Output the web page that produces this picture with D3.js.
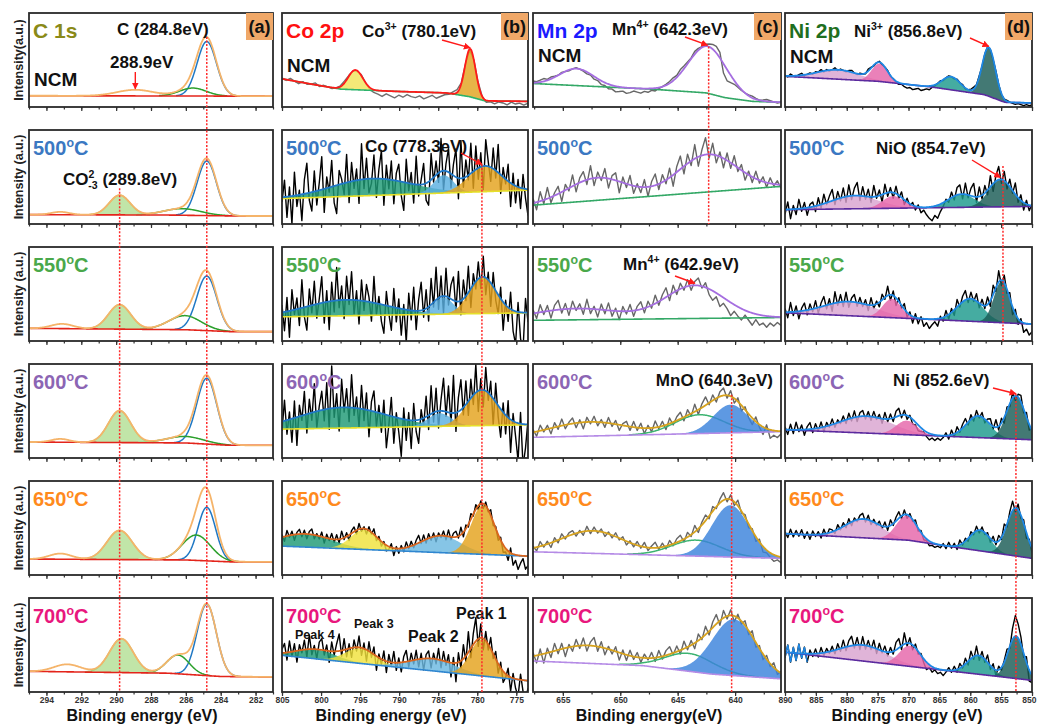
<!DOCTYPE html>
<html>
<head>
<meta charset="utf-8">
<script src="https://cdn.jsdelivr.net/npm/d3@7"></script>
<style>
  body { margin: 0; background: #fff; }
  svg { display: block; font-family: Arial, "Liberation Sans", sans-serif; font-weight: bold; }
</style>
</head>
<body>
<svg id="chart" width="1038" height="725"></svg>
<script>
// ---------- data ----------
const rowNames = ["NCM", "500", "550", "600", "650", "700"];
const elementNames = ["C 1s", "Co 2p", "Mn 2p", "Ni 2p"];
const panelTags = ["(a)", "(b)", "(c)", "(d)"];

// x ranges (binding energy, eV) and tick labels
const aDomain = [295, 281], bDomain = [805, 773.5], cDomain = [657.6, 636], dDomain = [890, 850];
const aTicks = [294, 292, 290, 288, 286, 284, 282];
const bTicks = [805, 800, 795, 790, 785, 780, 775];
const cTicks = [655, 650, 645, 640];
const dTicks = [890, 885, 880, 875, 870, 865, 860, 855, 850];

// backgrounds: [eV, intensity] (intensity as fraction of the panel height)
// peaks: [centre eV, height, fwhm eV]
// raw residuals: deviation of the measured line from the fit, in 1/100 of panel height
const c1sBgNCM = [[295, 0.12], [281, 0.115]];
const c1sPeaksNCM = [[284.8, 0.58, 1.3], [285.6, 0.085, 1.8], [288.9, 0.065, 2.5]];
const c1sBg500 = [[295, 0.10], [287, 0.095], [283, 0.085], [281, 0.085]];
const c1sPeaks500 = [[284.8, 0.58, 1.3], [286.2, 0.07, 2.5], [289.8, 0.21, 1.4], [293.2, 0.03, 1.2]];
const c1sBg550 = [[295, 0.135], [286, 0.12], [283.5, 0.10], [281, 0.10]];
const c1sPeaks550 = [[284.8, 0.58, 1.35], [286.05, 0.15, 2.2], [289.8, 0.26, 1.5], [293.1, 0.05, 1.5]];
const c1sBg600 = [[295, 0.17], [286, 0.16], [283.5, 0.135], [281, 0.135]];
const c1sPeaks600 = [[284.8, 0.70, 1.35], [286.05, 0.07, 2.5], [289.8, 0.34, 1.5], [293.2, 0.035, 1.2]];
const c1sBg650 = [[295, 0.17], [286, 0.16], [283.5, 0.14], [281, 0.14]];
const c1sPeaks650 = [[284.8, 0.57, 1.2], [285.4, 0.27, 1.9], [289.8, 0.31, 1.7], [293.2, 0.06, 1.5]];
const c1sBg700 = [[295, 0.22], [287, 0.20], [284, 0.165], [281, 0.16]];
const c1sPeaks700 = [[284.8, 0.76, 1.3], [286.45, 0.20, 1.5], [289.7, 0.36, 1.6], [292.8, 0.08, 1.8]];

const coBgNCM = [[805, 0.30], [801, 0.24], [797.5, 0.19], [790, 0.165], [784, 0.15], [781, 0.11], [779, 0.065], [773.5, 0.06]];
const coPeaksNCM = [[795.6, 0.21, 2.2], [780.9, 0.51, 1.6]];
const coResNCM = [1,-1,2,0,-2,1,-1,0,2,-1,1,0,-1, 0,1,2,1,0,-1,1,0,-2,-3,
  -4,-6,-3,-5,-7,-4,-6,-3,-5,-6,-4,-7,-5,-3,-6,-4,-2,-1, 2,3,1,0,-1,0,1, 0,-2,-1,-3,-1,-2,-4,-1,-3,-2,-4,-2];
const coBg500 = [[805, 0.27], [773.5, 0.36]];
const coPeaks500 = [[793.5, 0.18, 12], [784.3, 0.19, 3], [779.0, 0.27, 5]];
const coRes500 = [-5,18,-22,10,-30,25,-12,5,-28,15,32,-8,-20,22,-15,8,35,-25,12,-5,28,-18,-30,15,5,-12,30,-22,20,-8,
  12,-25,38,-10,22,-15,-5,25,-20,10,30,-28,15,-10,20,-25,8,18,-15,-30,
  25,-8,12,-20,30,-12,5,22,-18,-25,28,-5,15,-10,35,-20,8,25,-15,12,
  30,-22,40,-10,18,-5,32,-18,25,-12,15,-25,28,5,-15,22,-8,30,-20,10,
  -5,18,-25,12,-18,8,-22,15,-10,-28];
const coBg550 = [[805, 0.257], [773.5, 0.30]];
const coPeaks550 = [[796.8, 0.17, 12], [784.35, 0.18, 3], [779.3, 0.39, 4]];
const coRes550 = [8,-20,15,-28,22,-5,12,-18,30,-10,-25,18,-8,25,-15,5,28,-22,12,-30,
  20,-12,35,-8,15,-20,25,-5,30,-15,10,-25,22,-10,18,5,-20,28,-12,8,
  -18,-30,15,-8,-25,20,-15,10,-28,5,-35,18,-10,25,-20,12,30,-8,20,-15,
  28,-5,35,-12,22,-18,30,-8,15,25,-10,32,-15,20,-5,28,-20,12,-8,18,
  -12,22,-18,8,-25,15,-10,-20,12,-30,5,-15,18,-22,-35,10,-28,-40,15,-10];
const coBg600 = [[805, 0.307], [773.5, 0.353]];
const coPeaks600 = [[797.2, 0.22, 13], [784.8, 0.14, 3.5], [779.4, 0.38, 4.5]];
const coRes600 = [-10,22,-15,8,-25,18,-30,12,-5,25,-20,15,-8,30,-18,5,20,-12,28,-22,
  45,-10,15,-25,30,-5,20,-15,35,-8,12,-20,25,-12,18,-28,10,22,-15,8,
  -20,15,-35,-10,20,-28,5,-15,-40,12,-22,8,-30,18,-12,-25,10,-8,22,-15,
  30,-10,25,-18,12,35,-5,28,-12,40,-20,15,32,-8,25,-15,20,-10,30,-22,
  12,-18,25,-8,15,-28,20,-12,-30,10,-20,18,-35,8,-15,-40,12,-45,-25,5];
const coBg650 = [[805, 0.307], [773.5, 0.20]];
const coPeaks650 = [[802, 0.14, 8], [794.5, 0.21, 4], [784.6, 0.18, 6], [779.3, 0.52, 3.5]];
const coRes650 = [3,-5,6,-2,4,-6,2,5,-3,4,-5,3,6,-4,2,-3,5,-6,4,-2,
  6,-3,5,-4,8,-2,4,-6,3,5,-4,6,-3,2,-5,4,-2,6,-4,3,
  -5,2,-6,-3,4,-8,2,-5,3,-4,6,-2,5,-3,4,8,-2,6,-4,5,
  -3,4,-6,3,-2,5,-4,7,-3,4,6,-2,8,-5,4,-3,6,-2,5,-4,
  3,-5,4,-2,6,-4,2,-6,3,-8,-4,-10,5,-12,-6,-15,-8,-3,-14,-10];
const coBg700 = [[805, 0.39], [773.5, 0.12]];
const coPeaks700 = [[800.7, 0.10, 6], [795, 0.16, 4.5], [785.7, 0.13, 7], [779.4, 0.39, 3.5]];
const coRes700 = [4,10,-8,12,-5,8,-12,6,-3,10,-8,15,-6,4,-10,8,12,-5,6,-12,
  10,-4,8,18,-6,12,-8,5,-10,8,-4,12,-8,6,-12,10,-5,8,-15,4,
  -6,10,-12,8,-4,12,-8,5,-10,6,12,-6,8,-4,10,-8,6,-12,4,8,
  -10,6,-5,12,-8,10,-4,8,-15,6,-20,10,-8,15,-6,22,-10,12,25,-8,
  15,-12,10,-6,12,-5,8,-10,6,-12,-4,8,-15,5,-10,-18,6,-12,-20,-8];

const mnBgNCM = [[657.6, 0.25], [647.3, 0.19], [642.5, 0.15], [640.9, 0.10], [638.5, 0.06], [636, 0.05]];
const mnPeaksNCM = [[653.8, 0.18, 3.5], [642.4, 0.50, 4]];
const mnResNCM = [2,1,2,3,1,2,1,0,1,0, -1,0,1,0,-1,-2,-1,-3,-2,-4, -3,-5,-4,-6,-5,-4,-6,-5,-3,-4,
  -5,-3,-4,-2,-3,-1,0,1,2,3, 2,4,3,2,1,3,2,1,2,3, 5,7,6,-10,-12,-8,-4,-2,-1,0, 1,2,1,0,1,2,1,0,-1,0];
const mnBg500 = [[657.6, 0.20], [636, 0.40]];
const mnPeaks500 = [[652.05, 0.24, 6], [642.4, 0.40, 6]];
const mnRes500 = [5,-8,10,-4,12,-6,3,8,-10,6,-3,12,-8,5,10,-5,14,-8,6,-3,
  10,-10,4,8,-12,6,-4,10,-8,3,-6,8,-10,5,12,-6,8,-4,10,-12,
  6,14,-8,10,-5,15,-10,6,18,-4,12,-8,5,-10,8,-6,10,-4,6,-8,
  4,-6,8,-3,5,-5,6,-2,4,-4];
const mnBg550 = [[657.6, 0.22], [636, 0.25]];
const mnPeaks550 = [[653.8, 0.12, 9], [643.5, 0.35, 6]];
const mnRes550 = [4,-6,8,-3,6,-8,5,10,-4,6,-7,8,-2,5,-6,10,-5,3,-8,6,
  -4,8,-6,3,-9,5,-3,7,-6,4,8,-5,6,-3,9,-4,5,10,-6,8,
  -4,6,-3,7,-5,4,8,-2,5,-6,-10,-4,-12,-6,-9,-14,-7,-10,-12,-5,
  -9,-13,-6,-11,-8,-12,-7,-10,-6,-9];
const mnBg600 = [[657.6, 0.22], [636, 0.28]];
const mnPeaks600 = [[652.7, 0.15, 8], [643.1, 0.20, 5], [640.4, 0.30, 3.5]];
const mnRes600 = [3,-5,6,-2,4,-6,5,-3,7,-4,2,6,-5,3,-7,5,-2,6,-4,3,
  -5,6,-3,4,-6,2,5,-4,6,-3,5,-6,3,-4,7,-2,5,-5,6,-3,
  4,7,-4,6,-3,8,-5,4,9,-2,6,-4,5,8,-3,6,-5,4,-6,3,
  -4,-7,5,-3,-8,4,-9,-5,-7,-3];
const mnBg650 = [[657.6, 0.247], [636, 0.177]];
const mnPeaks650 = [[652.4, 0.24, 6.5], [643.4, 0.17, 5], [640.4, 0.55, 3.8]];
const mnRes650 = [2,-4,5,-2,3,-5,4,-3,5,-2,3,4,-3,2,-4,5,-3,4,-2,3,
  -4,2,-3,4,-2,3,-4,2,-3,4,-2,5,-3,2,6,-2,4,-3,5,-2,
  4,6,-3,5,-2,7,-4,3,6,-3,5,-2,4,8,-3,5,-4,6,-2,3,
  -4,2,-5,3,-6,-3,-5,-7,-4,-6];
const mnBg700 = [[657.6, 0.33], [648, 0.28], [642, 0.19], [636, 0.14]];
const mnPeaks700 = [[652.8, 0.19, 7], [644, 0.19, 5], [640.1, 0.60, 4.5]];
const mnRes700 = [4,-8,6,-10,5,-6,8,-4,6,-9,3,-5,7,-3,8,-6,4,9,-5,6,
  -7,3,-4,5,-8,4,-6,6,-3,5,-5,4,-2,6,-4,7,-3,5,8,-2,
  6,-4,8,-3,5,-6,7,-2,9,-4,6,10,-5,8,-3,6,-6,4,-3,5,
  -4,6,-5,3,-6,4,-3,5,-4,2];

const niBgNCM = [[890, 0.326], [874.9, 0.273], [866.3, 0.213], [857.7, 0.131], [854.4, 0.05], [850, 0.043]];
const niPeaksNCM = [[881.4, 0.10, 8], [874.7, 0.19, 3], [863.1, 0.14, 3.5], [857.0, 0.52, 2.5]];
const niResNCM = [1,-1,2,0,-1,1,2,-1,0,1, -1,1,0,2,-1,1,-1,0,2,-1, 1,0,-1,1,2,0,-1,1,0,-1,
  2,1,-1,0,1,-1,0,1,-1,0, -1,-2,-1,-3,-4,-3,-5,-4,-3,-5, -4,-3,-4,-2,-1,0,1,-1,0,1,
  0,-1,1,0,1,-1,0,1,2,0, 1,-1,0,1,0,-1,1,0,-1,0, 1,0,-1,-2,-1,-2,-3,-2,-3,-2];
const niBg500 = [[890, 0.152], [850, 0.187]];
const niPeaks500 = [[878.7, 0.14, 9], [872.5, 0.13, 4], [861.4, 0.14, 5], [855.1, 0.29, 4.5]];
const niRes500 = [-5,8,-10,4,-6,10,-3,6,-8,3, 5,-6,8,-4,10,-2,6,12,-5,8, -3,10,-6,12,-4,8,14,-5,10,-3,
  8,-6,12,-2,6,-8,10,-4,5,-6, 8,-3,6,-5,4,-2,3,-4,2,-6, -3,-8,-12,-15,-10,-14,-8,-4,2,-3,
  6,-4,8,10,-5,12,-3,8,14,-6, 10,-4,8,-5,12,-8,6,14,-4,10, -6,8,-3,12,-5,6,-8,4,-6,2];
const niBg550 = [[890, 0.30], [850, 0.18]];
const niPeaks550 = [[879.5, 0.15, 10], [872.7, 0.20, 3.5], [860, 0.24, 5], [854.9, 0.44, 3]];
const niRes550 = [4,-6,10,-4,6,-8,3,8,-5,6, -3,8,-6,4,10,-4,6,-8,12,-3, 8,-5,10,-6,4,8,-4,6,-3,5,
  -6,8,-4,3,-5,6,-2,10,-6,5, -8,4,-3,6,-5,3,-7,4,-6,2, -8,-4,-10,-6,-3,-8,2,-4,6,-5,
  4,-6,8,-3,6,10,-4,7,-2,8, -5,6,-3,8,-6,10,-4,12,-6,8, -4,6,-8,5,-6,3,-10,-6,-12,-8];
const niBg600 = [[890, 0.30], [850, 0.194]];
const niPeaks600 = [[876.8, 0.18, 10], [870.3, 0.15, 4], [858.7, 0.23, 4.5], [852.6, 0.46, 3.5]];
const niRes600 = [3,-5,6,-4,8,-2,5,-6,3,7, -4,5,-3,6,-5,4,-2,6,-4,3, -2,5,-4,6,-3,7,-5,4,6,-3,
  5,-4,6,-2,4,-5,7,-3,5,-4, 6,8,-3,5,-4,2,-5,-3,-6,-4, -2,-5,-7,-4,-6,-3,-5,-2,3,-4,
  5,-3,6,-2,4,7,-3,5,-4,6, -2,5,-4,3,6,-3,8,-4,5,-6, 4,-3,6,-5,3,7,-4,5,-6,2];
const niBg650 = [[890, 0.44], [870, 0.37], [864, 0.31], [850, 0.177]];
const niPeaks650 = [[877.3, 0.20, 7], [870.3, 0.26, 4], [858.4, 0.22, 4], [852.6, 0.51, 3.5]];
const niRes650 = [2,-4,5,-3,4,-2,5,-4,3,-5, 4,-2,3,-4,5,-3,4,2,-3,5, -2,4,-3,5,-4,3,-2,4,6,-3,
  5,-4,3,-2,4,-3,5,-4,6,-2, 4,7,-3,5,-4,3,-2,4,-3,2, -4,-2,-5,-3,-4,-2,-3,2,-3,4,
  -2,3,-4,5,-2,3,-3,4,-2,5, -3,4,-2,3,-4,5,-3,6,-2,8, -3,5,10,-4,6,-3,4,-6,2,-5];
const niBg700 = [[890, 0.424], [850, 0.124]];
const niPeaks700 = [[877.3, 0.17, 9], [869.8, 0.22, 4], [858.7, 0.20, 4], [852.6, 0.45, 3]];
const niRes700 = [-6,8,-10,6,-8,10,-5,7,-9,4, -3,5,-4,6,-3,4,-2,5,-4,6, -3,8,-4,6,10,-3,8,-5,9,-4,
  6,-3,8,-5,7,-2,6,-4,5,-3, 8,10,-4,12,-3,6,-5,4,-3,2, -4,-8,-3,-6,-2,-5,-3,-6,-2,3,
  -2,4,-3,5,-2,6,-4,8,-3,10, -5,6,-3,8,-4,5,-6,4,-3,2, 6,-2,12,22,15,8,-4,6,-12,-8];

// ---------- layout & styles ----------
const colLeft = [29, 282, 533, 785], colWidth = [244, 246, 248, 247];
const rowTop = [13, 130, 247, 364, 481, 598], rowH = 94;
const rowColors = ["#000", "#3b78c2", "#4aa84a", "#8c65b4", "#ff8a1c", "#e8177d"];
const elementColors = ["#8a8a18", "#ff1010", "#1a1aff", "#1f6f1f"];
const redA = "#ff1a1a";

const aBlue = {line: "#1f78c4"}, aGreen = {line: "#2ca02c"}, aCO3 = {fill: "#b3df95", line: "#a3d685"};
const teal = {fill: "#1f9a75"}, ltBlue = {fill: "#5ab0e0"}, gold = {fill: "#e4a21c"}, yellow = {fill: "#f0e23c"};
const mnBlue = {fill: "#3b82dc"}, mnGreen = {line: "#3cb371"};
const niStyles = [{fill: "#d9a3cf"}, {fill: "#e565aa"}, {fill: "#1c9a8c"}, {fill: "#1a5c55"}];

const columns = [
  { dom: aDomain, ticks: aTicks, step: 1, title: "Binding energy (eV)", titleX: 142,
    bg: [c1sBgNCM, c1sBg500, c1sBg550, c1sBg600, c1sBg650, c1sBg700],
    peaks: [c1sPeaksNCM, c1sPeaks500, c1sPeaks550, c1sPeaks600, c1sPeaks650, c1sPeaks700],
    res: [null, null, null, null, null, null],
    style: r => ({ peaks: r === 0 ? [aBlue, aGreen, {}] : [aBlue, aGreen, aCO3, {}],
                   env: "#f5b46a", bg: "#e3241b", raw: null }) },
  { dom: bDomain, ticks: bTicks, step: 2.5, title: "Binding energy (eV)", titleX: 391,
    bg: [coBgNCM, coBg500, coBg550, coBg600, coBg650, coBg700],
    peaks: [coPeaksNCM, coPeaks500, coPeaks550, coPeaks600, coPeaks650, coPeaks700],
    res: [coResNCM, coRes500, coRes550, coRes600, coRes650, coRes700],
    style: r => r === 0 ? { peaks: [{fill: "#f0e45a"}, {fill: "#e2a420"}], env: "#ff1a1a", bg: "#2db36b", raw: "#6f6f6f" }
              : r < 4 ? { peaks: [teal, ltBlue, gold], env: "#1f78c8", bg: "#e6e02a", raw: "#000" }
              : { peaks: [teal, yellow, {fill: "#6bb8e0"}, gold], env: "#d9651e", bg: "#2f86d0", raw: "#000" } },
  { dom: cDomain, ticks: cTicks, step: 2.5, title: "Binding energy(eV)", titleX: 649,
    bg: [mnBgNCM, mnBg500, mnBg550, mnBg600, mnBg650, mnBg700],
    peaks: [mnPeaksNCM, mnPeaks500, mnPeaks550, mnPeaks600, mnPeaks650, mnPeaks700],
    res: [mnResNCM, mnRes500, mnRes550, mnRes600, mnRes650, mnRes700],
    style: r => r < 3 ? { peaks: [{}, {}], env: "#a56ee0", bg: "#33a866", raw: "#666" }
              : { peaks: [{}, mnGreen, mnBlue], env: "#d6a21e", bg: "#b58be6", raw: "#666" } },
  { dom: dDomain, ticks: dTicks, step: 2.5, title: "Binding energy (eV)", titleX: 907,
    bg: [niBgNCM, niBg500, niBg550, niBg600, niBg650, niBg700],
    peaks: [niPeaksNCM, niPeaks500, niPeaks550, niPeaks600, niPeaks650, niPeaks700],
    res: [niResNCM, niRes500, niRes550, niRes600, niRes650, niRes700],
    style: r => ({ peaks: niStyles, env: "#1e88e5", bg: "#5b2a9e", raw: "#000", rawHead: r === 5 ? 8 : 0 }) }
];

// ---------- drawing ----------
const svg = d3.select("#chart");
const defs = svg.append("defs");
defs.append("marker").attr("id", "arr").attr("viewBox", "0 0 10 10")
  .attr("refX", 9).attr("refY", 5).attr("markerWidth", 5).attr("markerHeight", 5).attr("orient", "auto")
  .append("path").attr("d", "M0,0L10,5L0,10z").attr("fill", redA);

const LN4 = 4 * Math.log(2);
const gauss = (e, p) => p[1] * Math.exp(-LN4 * (e - p[0]) ** 2 / (p[2] * p[2]));

const panels = {}; // scales and model per panel, used for annotations

function rich(x, y, parts, size, fill, anchor) {
  const t = svg.append("text").attr("x", x).attr("y", y).attr("font-size", size)
    .attr("fill", fill).attr("text-anchor", anchor || "start");
  let shift = 0;
  parts.forEach(p => {
    const [s, k, dx] = typeof p === "string" ? [p, "", 0] : p;
    const target = k === "sup" ? -0.42 * size : k === "sub" ? 0.22 * size : 0;
    const ts = t.append("tspan").text(s).attr("dy", target - shift);
    if (k) ts.attr("font-size", size * 0.62);
    if (dx) ts.attr("dx", dx);
    shift = target;
  });
  return t;
}

function arrow(x1, y1, x2, y2) {
  svg.append("line").attr("x1", x1).attr("y1", y1).attr("x2", x2).attr("y2", y2)
    .attr("stroke", redA).attr("stroke-width", 1.4).attr("marker-end", "url(#arr)");
}

columns.forEach((col, ci) => {
  const x = d3.scaleLinear().domain(col.dom).range([colLeft[ci], colLeft[ci] + colWidth[ci]]);
  const samples = d3.range(0, 401).map(i => col.dom[0] + (col.dom[1] - col.dom[0]) * i / 400);

  rowNames.forEach((rn, ri) => {
    const top = rowTop[ri];
    const y = d3.scaleLinear().domain([0, 1]).range([top + rowH, top]);
    const bgPts = col.bg[ri];
    const bg = d3.scaleLinear().domain(bgPts.map(d => d[0])).range(bgPts.map(d => d[1])).clamp(true);
    const peaks = col.peaks[ri];
    const env = e => bg(e) + d3.sum(peaks, p => gauss(e, p));
    const st = col.style(ri);
    panels[ci + "_" + ri] = { x, y, env };

    const clipId = "clip" + ci + ri;
    defs.append("clipPath").attr("id", clipId).append("rect")
      .attr("x", colLeft[ci]).attr("y", top).attr("width", colWidth[ci]).attr("height", rowH);
    const g = svg.append("g").attr("clip-path", `url(#${clipId})`);

    const line = d3.line().x(d => x(d[0])).y(d => y(d[1]));

    // measured spectrum
    const res = col.res[ri];
    if (res && st.raw) {
      const n = res.length;
      const raw = res.map((r, i) => {
        const e = col.dom[0] + (col.dom[1] - col.dom[0]) * i / (n - 1);
        return [e, env(e) + r / 100];
      });
      g.append("path").datum(raw).attr("d", line).attr("fill", "none")
        .attr("stroke", st.raw).attr("stroke-width", 1.4).attr("stroke-linejoin", "round");
      if (st.rawHead) {
        g.append("path").datum(raw.slice(0, st.rawHead + 1)).attr("d", line).attr("fill", "none")
          .attr("stroke", st.env).attr("stroke-width", 1.4);
      }
    }

    // fitted components
    peaks.forEach((p, pi) => {
      const s = st.peaks[pi] || {};
      if (s.fill) {
        const area = d3.area().defined(e => gauss(e, p) > 0.002)
          .x(e => x(e)).y0(e => y(bg(e))).y1(e => y(bg(e) + gauss(e, p)));
        g.append("path").datum(samples).attr("d", area)
          .attr("fill", s.fill).attr("fill-opacity", 0.82);
      }
      if (s.line) {
        const l = d3.line().defined(e => gauss(e, p) > 0.003)
          .x(e => x(e)).y(e => y(bg(e) + gauss(e, p)));
        g.append("path").datum(samples).attr("d", l).attr("fill", "none")
          .attr("stroke", s.line).attr("stroke-width", 1.5);
      }
    });

    // background and envelope
    g.append("path").datum(samples.map(e => [e, bg(e)])).attr("d", line)
      .attr("fill", "none").attr("stroke", st.bg).attr("stroke-width", 1.6);
    g.append("path").datum(samples.map(e => [e, env(e)])).attr("d", line)
      .attr("fill", "none").attr("stroke", st.env).attr("stroke-width", 1.8);

    // ticks (outward) on every row, labels on the last one
    const minor = d3.range(Math.ceil(Math.min(...col.dom) / col.step) * col.step, Math.max(...col.dom) + 1e-6, col.step);
    const axMinor = svg.append("g").attr("transform", `translate(0,${top + rowH})`)
      .call(d3.axisBottom(x).tickValues(minor).tickSize(2.5).tickFormat(""));
    axMinor.select(".domain").remove();
    const axMajor = svg.append("g").attr("transform", `translate(0,${top + rowH})`)
      .call(d3.axisBottom(x).tickValues(col.ticks).tickSize(4).tickPadding(1)
        .tickFormat(ri === 5 ? d3.format("d") : ""));
    axMajor.select(".domain").remove();
    svg.selectAll(".tick line").attr("stroke", "#333").attr("stroke-width", 1.2);
    axMajor.selectAll("text").attr("font-size", 8.5).attr("font-weight", "bold")
      .attr("fill", "#333").attr("font-family", "Arial, 'Liberation Sans', sans-serif");
    // keep the last label of the right-most column inside the picture
    if (ci === 3) axMajor.selectAll(".tick").filter(d => d === 850).select("text").attr("text-anchor", "end").attr("dx", 4);

    // frame
    svg.append("rect").attr("x", colLeft[ci]).attr("y", top).attr("width", colWidth[ci]).attr("height", rowH)
      .attr("fill", "none").attr("stroke", "#2a2a2a").attr("stroke-width", 1.8);

    // row labels
    if (ri === 0) {
      svg.append("text").attr("x", colLeft[ci] + 4).attr("y", top + 25).attr("font-size", 21)
        .attr("fill", elementColors[ci]).text(elementNames[ci]);
      const ncmY = [73, 59, 49, 50][ci];
      svg.append("text").attr("x", colLeft[ci] + 5).attr("y", top + ncmY).attr("font-size", 19)
        .attr("fill", "#111").text("NCM");
      const bx = colLeft[ci] + colWidth[ci] - 27;
      svg.append("rect").attr("x", bx).attr("y", top).attr("width", 27).attr("height", 27).attr("fill", "#f0a868");
      svg.append("text").attr("x", bx + 13.5).attr("y", top + 20).attr("font-size", 18)
        .attr("text-anchor", "middle").attr("fill", "#111").text(panelTags[ci]);
    } else {
      rich(colLeft[ci] + 4, top + 25, [rn, ["o", "sup"], "C"], 20, rowColors[ri]);
    }

    if (ci === 0) {
      svg.append("text").attr("transform", `translate(19,${top + rowH / 2}) rotate(-90)`)
        .attr("text-anchor", "middle").attr("dy", "0.35em").attr("font-size", 12.5).attr("fill", "#222")
        .text(ri === 0 ? "Intensity(a.u.)" : "Intensity (a.u.)");
    }
  });

  svg.append("text").attr("x", col.titleX).attr("y", 721).attr("text-anchor", "middle")
    .attr("font-size", 16).attr("fill", "#111").text(col.title);
});

// ---------- annotations ----------
const P = (ci, ri) => panels[ci + "_" + ri];
const tip = (ci, ri, e, off) => [P(ci, ri).x(e), P(ci, ri).y(P(ci, ri).env(e)) - (off || 0)];
const black = "#111";

rich(117, 35, ["C (284.8eV)"], 17, black);
rich(110, 68, ["288.9eV"], 17, black);
let t = tip(0, 0, 288.9, 1); arrow(t[0], 72, t[0], t[1]);

rich(362, 37, ["Co", ["3+", "sup"], " (780.1eV)"], 17, black);
t = tip(1, 0, 780.9, 1); arrow(442, 40, t[0], t[1]);

rich(612, 35, ["Mn", ["4+", "sup"], " (642.3eV)"], 17, black);
t = tip(2, 0, 642.4, 1); arrow(685, 37, t[0], t[1]);

rich(854, 37, ["Ni", ["3+", "sup"], " (856.8eV)"], 17, black);
t = tip(3, 0, 857.0, 1); arrow(970, 38, t[0], t[1]);

rich(63, 185, ["CO", ["2", "sup"], ["-3", "sub", -6], " (289.8eV)"], 17, black);

rich(365, 152, ["Co (778.3eV)"], 17, black);
t = tip(1, 1, 779.4, 2); arrow(461, 153, t[0], t[1]);

rich(876, 154, ["NiO (854.7eV)"], 17, black);
t = tip(3, 1, 855.1, 2); arrow(972, 160, t[0], t[1]);

rich(623, 270, ["Mn", ["4+", "sup"], " (642.9eV)"], 17, black);
t = tip(2, 2, 643.5, 2); arrow(675, 276, t[0], t[1]);

rich(773, 386, ["MnO (640.3eV)"], 17, black, "end");
rich(893, 386, ["Ni (852.6eV)"], 17, black);
t = tip(3, 3, 852.6, 2); arrow(993, 388, t[0], t[1]);

rich(295, 639, ["Peak 4"], 12.5, black);
rich(354, 628, ["Peak 3"], 12.5, black);
rich(408, 642, ["Peak 2"], 16, black);
rich(456, 619, ["Peak 1"], 16, black);

// ---------- dotted guide lines ----------
const bottomOf = ri => rowTop[ri] + rowH;
function guide(ci, e, r0, off, r1) {
  const x = P(ci, r0).x(e);
  const y0 = P(ci, r0).y(P(ci, r0).env(e)) - off;
  svg.append("line").attr("x1", x).attr("x2", x).attr("y1", y0).attr("y2", bottomOf(r1))
    .attr("stroke", "#ff2a2a").attr("stroke-width", 1.5).attr("stroke-dasharray", "2,1.6");
}
guide(0, 284.8, 0, 0, 5);
guide(0, 289.8, 1, 7, 5);
guide(1, 779.4, 1, 2, 5);
guide(2, 642.3, 0, 0, 1);
guide(2, 640.3, 3, 2, 5);
guide(3, 854.7, 1, 14, 2);
guide(3, 852.6, 3, 2, 5);
</script>
</body>
</html>
